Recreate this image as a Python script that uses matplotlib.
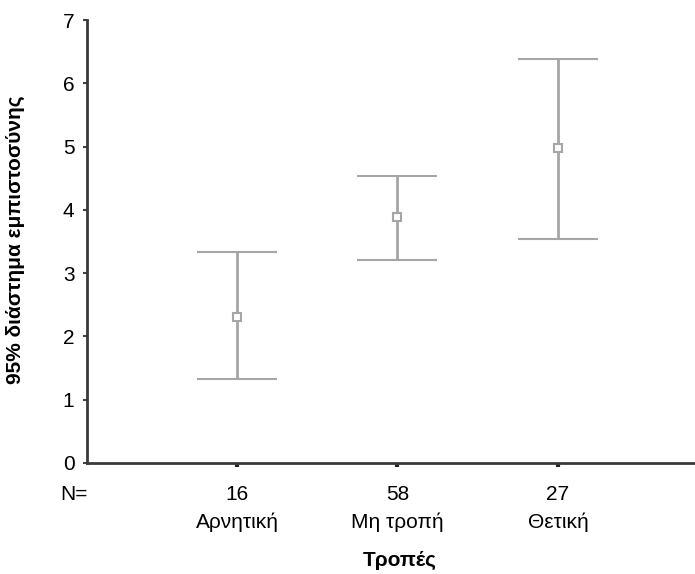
import matplotlib
matplotlib.use("Agg")
import matplotlib.pyplot as plt
import matplotlib.transforms as mtransforms

categories = ["Αρνητική", "Μη τροπή", "Θετική"]
counts = [16, 58, 27]
means = [2.31, 3.88, 4.97]
upper = [3.33, 4.54, 6.39]
lower = [1.33, 3.20, 3.54]
yticks = [0, 1, 2, 3, 4, 5, 6, 7]

plt.rcParams['font.family'] = ['Liberation Sans', 'DejaVu Sans']

W, H = 695, 574
fig = plt.figure(figsize=(W / 100, H / 100), dpi=100)
ax = fig.add_axes([87 / W, (H - 463) / H, 1 - 87 / W, (463 - 20) / H])

pos = [1, 2, 3]
gray = '#a6a6a6'
for p, m, u, l in zip(pos, means, upper, lower):
    ax.errorbar([p], [m], yerr=[[m - l], [u - m]], fmt='s', color=gray,
                ecolor=gray, elinewidth=2, capsize=29, capthick=2,
                markersize=5.5, markerfacecolor='white', markeredgecolor=gray,
                markeredgewidth=1.5)

ax.set_xlim(0.065, 3.854)
ax.set_ylim(0, 7)
ax.set_yticks(yticks)
ax.set_yticklabels([str(t) for t in yticks], fontsize=15)
ax.set_xticks(pos)
ax.set_xticklabels([])
ax.tick_params(axis='y', direction='out', length=3, width=1.5, color='#444444', pad=6)
ax.tick_params(axis='x', direction='out', length=3, width=3, color='#222222')

for s in ['top', 'right']:
    ax.spines[s].set_visible(False)
for s in ['left', 'bottom']:
    ax.spines[s].set_linewidth(2)
    ax.spines[s].set_color('#3a3a3a')

trans = mtransforms.blended_transform_factory(ax.transData, fig.transFigure)
for p, c, n in zip(pos, counts, categories):
    ax.text(p, 1 - 495 / H, str(c), transform=trans, ha='center', va='center', fontsize=15)
    ax.text(p, 1 - 522 / H, n, transform=trans, ha='center', va='center', fontsize=15)
fig.text(74 / W, 1 - 495 / H, "N=", ha='center', va='center', fontsize=15)

fig.text(400 / W, 1 - 560 / H, "Τροπές", ha='center', va='center', fontsize=15, fontweight='bold')
fig.text(15 / W, 1 - 240 / H, "95% διάστημα εμπιστοσύνης", ha='center', va='center',
         rotation=90, fontsize=15, fontweight='bold')

fig.savefig("out.png", dpi=100)
